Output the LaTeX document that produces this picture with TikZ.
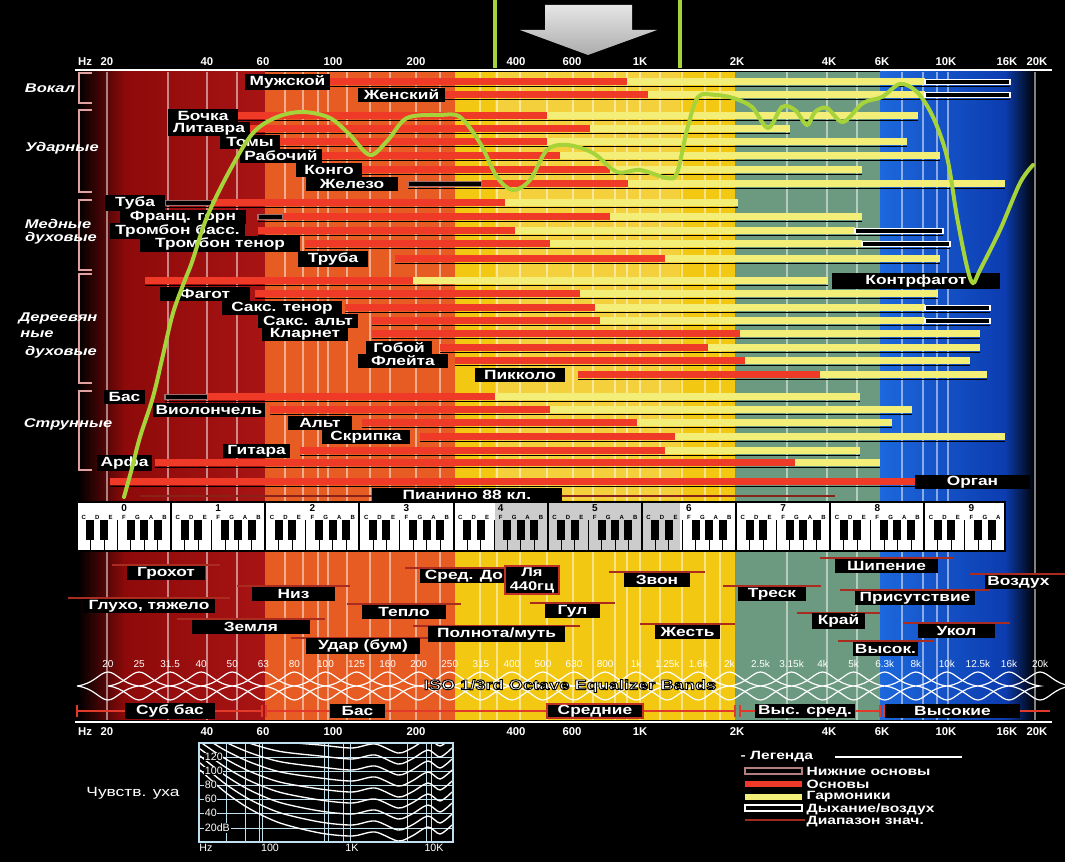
\documentclass[tikz,border=0pt]{standalone}
\usepackage{fontspec}
\setmainfont{Liberation Sans}
\newfontfamily\lf[FakeStretch=1.3]{Liberation Sans}
\usetikzlibrary{calc}
\definecolor{fundc}{HTML}{EE3A26}
\definecolor{harmc}{HTML}{F2EE78}
\definecolor{curvec}{HTML}{A6D23A}
\definecolor{darkred}{HTML}{8E0A0A}
\definecolor{redr}{HTML}{A81414}
\definecolor{orangec}{HTML}{E65C22}
\definecolor{yellowc}{HTML}{F2C812}
\definecolor{greenc}{HTML}{6C9A80}
\definecolor{bluec}{HTML}{1C68DC}
\definecolor{blued}{HTML}{0C3CB0}
\definecolor{rangec}{HTML}{E23A2A}
\definecolor{brk}{HTML}{E0A0A0}
\definecolor{gridc}{HTML}{BFE0EE}
\tikzset{
  lab/.style={fill=black, text=white, font={\lf\bfseries\fontsize{10}{11}\selectfont}, inner xsep=1.5pt, inner ysep=1pt, minimum height=10pt},
  cat/.style={text=white, font={\lf\bfseries\itshape\fontsize{9.5}{11}\selectfont}},
  axl/.style={text=white, font={\bfseries\fontsize{8.5}{9}\selectfont}},
  isol/.style={text=white, font={\fontsize{7.5}{7.5}\selectfont}},
  vline/.style={white, opacity=0.5, line width=1.5pt},
  shad/.style={black, line width=1pt},
  legt/.style={text=white, anchor=west, font={\lf\bfseries\fontsize{9}{9}\selectfont}, inner sep=0.3pt},
}
\newcommand{\rbar}[3]{\fill[fundc] (#1,#3-3.5) rectangle (#2,#3+3.5);}
\newcommand{\ybar}[3]{\fill[harmc] (#1,#3-3.5) rectangle (#2,#3+3.5);}
\newcommand{\abar}[3]{\draw[white, line width=0.8pt, fill=black] (#1,#3-2.8) rectangle (#2,#3+2.8);}
\newcommand{\lbar}[3]{\draw[brk!70!black, line width=0.8pt, fill=black] (#1,#3-2.8) rectangle (#2,#3+2.8);}
\newcommand{\shd}[3]{\draw[shad] (#1,#3+4.5) -- (#2,#3+4.5);}
\newcommand{\lbl}[5]{\node[lab, minimum width={(#3-#2)*0.75pt}] (#1) at ({(#2+#3)/2},#4) {#5};}
\newcommand{\dsc}[5]{\draw[rangec!75!black, line width=1.2pt] (#2-15,#4-8) -- (#3+15,#4-8); \lbl{#1}{#2}{#3}{#4}{#5}}
\newcommand{\brkt}[2]{\draw[brk, line width=1.2pt] (92,#1) -- (79,#1) -- (79,#2) -- (92,#2);}
\begin{document}
\begin{tikzpicture}[x=0.75pt,y=-0.75pt]
\useasboundingbox (0,0) rectangle (1065,862);
\fill[black] (0,0) rectangle (1065,862);
% background bands
\shade[left color=black, right color=darkred] (78,72) rectangle (125,720);
\shade[left color=darkred, right color=redr] (125,72) rectangle (265,720);
\fill[orangec] (265,72) rectangle (455,720);
\fill[yellowc] (455,72) rectangle (735,720);
\fill[greenc] (735,72) rectangle (880,720);
\shade[left color=bluec, right color=blued] (880,72) rectangle (1005,720);
\shade[left color=blued, right color=black] (1005,72) rectangle (1035,720);
\fill[white, opacity=0.18] (495,72) rectangle (680,500);
% vertical lines
\foreach \x in {107,168,207,237,285,303,318,328,347,370,390,416,440,480,497,520,547,573,593,615,627,640,660,682,705,720,787,827,857,902,923,937,948,1035}
  \draw[vline] (\x,72) -- (\x,720);
% brackets and categories
\brkt{73}{103}\brkt{110}{192}\brkt{200}{270}\brkt{274}{383}\brkt{391}{470}
\node[cat] (c1) at (50,88) {Вокал};
\node[cat] (c2) at (62,148) {Ударные};
\node[cat] (c3a) at (58,224) {Медные};
\node[cat] (c3b) at (61,238) {духовые};
\node[cat] (c4a) at (58,318) {Дереевян};
\node[cat] (c4b) at (37,334) {ные};
\node[cat] (c4c) at (61,352) {духовые};
\node[cat] (c5) at (68,424) {Струнные};
% rows
\shd{330}{1010}{82}\rbar{330}{627}{82}\ybar{627}{925}{82}\abar{925}{1010}{82}\lbl{r1}{245}{330}{82}{Мужской}
\shd{445}{1010}{95}\rbar{445}{648}{95}\ybar{648}{925}{95}\abar{925}{1010}{95}\lbl{r2}{358}{445}{95}{Женский}
\shd{238}{918}{116}\rbar{238}{547}{116}\ybar{547}{918}{116}\lbl{r3}{168}{238}{116}{Бочка}
\shd{250}{790}{129}\rbar{250}{590}{129}\ybar{590}{790}{129}\lbl{r4}{168}{250}{129}{Литавра}
\shd{280}{907}{142}\rbar{280}{547}{142}\ybar{547}{907}{142}\lbl{r5}{220}{280}{142}{Томы}
\shd{322}{940}{156}\rbar{322}{560}{156}\ybar{560}{940}{156}\lbl{r6}{240}{322}{156}{Рабочий}
\shd{362}{862}{170}\rbar{362}{610}{170}\ybar{610}{862}{170}\lbl{r7}{296}{362}{170}{Конго}
\shd{408}{1005}{184}\lbar{408}{482}{184}\rbar{482}{628}{184}\ybar{628}{1005}{184}\lbl{r8}{306}{398}{184}{Железо}
\shd{165}{738}{203}\lbar{165}{212}{203}\rbar{212}{505}{203}\ybar{505}{738}{203}\lbl{r9}{105}{165}{203}{Туба}
\shd{258}{862}{217}\lbar{258}{283}{217}\rbar{283}{610}{217}\ybar{610}{862}{217}\lbl{r10}{120}{246}{217}{Франц. горн}
\shd{258}{943}{231}\rbar{258}{515}{231}\ybar{515}{855}{231}\abar{855}{943}{231}\lbl{r11}{110}{245}{231}{Тромбон басс.}
\shd{305}{950}{244}\rbar{305}{550}{244}\ybar{550}{862}{244}\abar{862}{950}{244}\lbl{r12}{140}{300}{244}{Тромбон тенор}
\shd{395}{940}{259}\rbar{395}{665}{259}\ybar{665}{940}{259}\lbl{r13}{298}{368}{259}{Труба}
\shd{145}{828}{281}\rbar{145}{413}{281}\ybar{413}{828}{281}\lbl{r14}{832}{1000}{281}{Контрфагот}
\shd{255}{938}{294}\rbar{255}{580}{294}\ybar{580}{938}{294}\lbl{r15}{160}{250}{294}{Фагот}
\shd{345}{990}{308}\rbar{345}{595}{308}\ybar{595}{925}{308}\abar{925}{990}{308}\lbl{r16}{222}{342}{308}{Сакс. тенор}
\shd{372}{990}{321}\rbar{372}{600}{321}\ybar{600}{925}{321}\abar{925}{990}{321}\lbl{r17}{258}{358}{321}{Сакс. альт}
\shd{372}{980}{334}\rbar{372}{740}{334}\ybar{740}{980}{334}\lbl{r18}{262}{348}{334}{Кларнет}
\shd{440}{980}{348}\rbar{440}{708}{348}\ybar{708}{980}{348}\lbl{r19}{366}{432}{348}{Гобой}
\shd{455}{970}{361}\rbar{455}{745}{361}\ybar{745}{970}{361}\lbl{r20}{358}{448}{361}{Флейта}
\shd{578}{987}{375}\rbar{578}{820}{375}\ybar{820}{987}{375}\lbl{r21}{475}{565}{375}{Пикколо}
\shd{165}{860}{397}\lbar{165}{208}{397}\rbar{208}{495}{397}\ybar{495}{860}{397}\lbl{r22}{104}{145}{397}{Бас}
\shd{270}{912}{410}\rbar{270}{550}{410}\ybar{550}{912}{410}\lbl{r23}{153}{265}{410}{Виолончель}
\shd{362}{892}{423}\rbar{362}{637}{423}\ybar{637}{892}{423}\lbl{r24}{288}{352}{423}{Альт}
\shd{420}{1005}{437}\rbar{420}{675}{437}\ybar{675}{1005}{437}\lbl{r25}{322}{410}{437}{Скрипка}
\shd{300}{860}{451}\rbar{300}{665}{451}\ybar{665}{860}{451}\lbl{r26}{223}{290}{451}{Гитара}
\shd{155}{880}{463}\rbar{155}{795}{463}\ybar{795}{880}{463}\lbl{r27}{97}{152}{463}{Арфа}
\shd{110}{915}{482}\rbar{110}{915}{482}\lbl{r28}{915}{1030}{482}{Орган}
\draw[rangec!60!black, line width=1.5pt] (140,496) -- (372,496);
\draw[rangec!60!black, line width=1.5pt] (562,496) -- (835,496);
\lbl{r29}{372}{562}{495}{Пианино 88 кл.}
% green curve
\draw[curvec, line width=3pt, line cap=round] plot[smooth, tension=0.55] coordinates {(124,497) (132,468) (140,437) (153,397) (163,355) (173,313) (185,280) (192,262) (207,217) (230,170) (253,133) (277,117) (303,112) (330,118) (350,135) (370,155) (388,140) (407,118) (440,115) (460,117) (480,143) (497,177) (513,190) (530,180) (547,150) (567,145) (593,153) (617,172) (640,170) (667,178) (677,173) (687,130) (698,97) (715,95) (733,98) (752,107) (768,128) (782,107) (795,110) (807,125) (815,112) (827,108) (843,122) (863,103) (882,97) (900,84) (917,92) (933,117) (947,157) (957,217) (967,267) (973,283) (980,270) (1000,230) (1020,183) (1033,165)};
% keyboard
\fill[white] (77,502) rectangle (1005,551);
\foreach \n in {0,...,68} {
  \draw[black, line width=0.6pt] ({77+13.45*\n},520) -- ({77+13.45*\n},551);
  \pgfmathtruncatemacro\m{mod(\n,7)}
  \node[font={\bfseries\fontsize{4.5}{5}\selectfont}, inner sep=0pt] at ({77+13.45*(\n+0.5)},517) {\ifcase\m C\or D\or E\or F\or G\or A\or B\fi};
}
\foreach \n in {0,...,67} {
  \pgfmathtruncatemacro\m{mod(\n,7)}
  \ifnum\m=2\relax\else\ifnum\m=6\relax\else
    \fill[black] ({77+13.45*(\n+1)-4},520) rectangle ({77+13.45*(\n+1)+4},540);
  \fi\fi
}
\foreach \o in {0,...,9} {
  \draw[black, line width=1.5pt] ({77+94.15*\o},502) -- ({77+94.15*\o},551);
  \node[font={\bfseries\fontsize{7.5}{8}\selectfont}, inner sep=0pt] at ({77+94.15*(\o+0.5)},508) {\o};
}
\fill[black, opacity=0.2] (495,502) rectangle (680,551);
\draw[black, line width=1.5pt] (77,502) rectangle (1005,551);
% descriptors
\dsc{d1}{127}{205}{573}{Грохот}
\dsc{d2}{83}{215}{606}{Глухо, тяжело}
\dsc{d3}{252}{335}{594}{Низ}
\dsc{d4}{192}{310}{627}{Земля}
\dsc{d5}{362}{446}{612}{Тепло}
\dsc{d6}{306}{420}{646}{Удар (бум)}
\dsc{d7}{420}{508}{576}{Сред. До}
\dsc{d8}{428}{565}{634}{Полнота/муть}
\dsc{d9}{545}{600}{611}{Гул}
\dsc{d10}{624}{690}{580}{Звон}
\dsc{d11}{655}{720}{632}{Жесть}
\dsc{d12}{738}{806}{594}{Треск}
\dsc{d13}{835}{938}{566}{Шипение}
\dsc{d14}{812}{865}{621}{Край}
\dsc{d15}{855}{975}{598}{Присутствие}
\dsc{d16}{985}{1052}{582}{Воздух}
\dsc{d17}{918}{995}{631}{Укол}
\dsc{d18}{853}{918}{649}{Высок.}
\node[lab, draw=rangec!85!black, line width=1.5pt, align=center, minimum width=40pt, font={\lf\bfseries\fontsize{9.5}{10.5}\selectfont}] (la) at (532,580) {Ля\\440гц};
% ISO bands
\foreach \t [count=\i from 0] in {20,25,31.5,40,50,63,80,100,125,160,200,250,315,400,500,630,800,1k,1.25k,1.6k,2k,2.5k,3.15k,4k,5k,6.3k,8k,10k,12.5k,16k,20k} {
  \pgfmathsetmacro\xc{108+31.07*\i}
  \node[isol, inner sep=0pt] at (\xc,664) {\t};
  \draw[white, line width=0.9pt] (\xc-31,686) .. controls (\xc-14,684) and (\xc-8,672) .. (\xc,672) .. controls (\xc+8,672) and (\xc+14,684) .. (\xc+31,686) .. controls (\xc+14,688) and (\xc+8,700) .. (\xc,700) .. controls (\xc-8,700) and (\xc-14,688) .. (\xc-31,686);
}
\node[text=white, font={\lf\bfseries\fontsize{10.5}{11}\selectfont}] (iso) at (570,686) {\special{pdf:literal direct 2 Tr 0.7 w 0 G}ISO 1/3rd Octave Equalizer Bands\special{pdf:literal direct 0 Tr}};
% band ranges
\draw[rangec, line width=1.5pt] (77,711) -- (262,711) (266,711) -- (455,711) (455,711) -- (735,711) (740,711) -- (880,711) (884,711) -- (1050,711);
\foreach \x in {77,262,266,735,740,880,884} \draw[rangec, line width=1.5pt] (\x,705) -- (\x,717);
\lbl{b1}{125}{215}{711}{Суб бас}
\lbl{b2}{330}{385}{711}{Бас}
\node[lab, draw=rangec!85!black, line width=1.5pt, minimum width=72pt] (b3) at (595,711) {Средние};
\lbl{b4}{755}{855}{711}{Выс. сред.}
\lbl{b5}{885}{1020}{711}{Высокие}
% axes
\draw[white, line width=1.5pt] (75,70) -- (1052,70);
\draw[white, line width=1.5pt] (75,722) -- (1052,722);
\foreach \y/\s in {62/t,732/b} {
  \node[axl] (hz\s) at (85,\y) {Hz};
  \foreach \lab/\x [count=\j] in {20/107,40/207,60/263,100/333,200/416,400/516,600/572,1K/640,2K/737,4K/829,6K/882,10K/946,16K/1007,20K/1037}
    \node[axl] (ax\s\j) at (\x,\y) {\lab};
}
% top arrow and marker lines
\shade[top color=gray!20, bottom color=gray!65] (545,5) -- (632,5) -- (632,30) -- (657,30) -- (588,55) -- (520,30) -- (545,30) -- cycle;
\draw[curvec, line width=3pt] (495,0) -- (495,68);
\draw[curvec, line width=3pt] (680,0) -- (680,68);
% equal loudness chart
\node[text=white, font={\lf\fontsize{10}{11}\selectfont}] (ear) at (133,793) {Чувств. уха};
\foreach \x in {226,245,259,262,324,328,343,350,407,426,431} \draw[gridc, line width=0.5pt] (\x,743) -- (\x,842);
\foreach \y in {757,771,785,799,813,828} \draw[gridc, line width=0.5pt] (199,\y) -- (453,\y);
\begin{scope}
\clip (199,743) rectangle (453,842);
\foreach \k in {0,...,10} {
  \pgfmathsetmacro\b{836-11*\k}
  \pgfmathsetmacro\s{1-0.06*\k}
  \draw[white, line width=1pt] plot[smooth] coordinates {(200,\b-66*\s) (225,\b-44*\s) (250,\b-27*\s) (280,\b-13*\s) (320,\b-3) (352,\b) (375,\b-4) (398,\b+5) (412,\b) (428,\b-9) (440,\b-2) (452,\b-11)};
}
\end{scope}
\draw[gridc, line width=1pt] (199,743) rectangle (453,842);
\foreach \v/\y [count=\j] in {120/757,100/771,80/785,60/799,40/813,20dB/828}
  \node[fill=black, text=white, font={\fontsize{8}{8}\selectfont}, inner sep=0.5pt, anchor=west] (db\j) at (204,\y) {\v};
\foreach \v/\x [count=\j] in {Hz/206,100/270,1K/352,10K/434}
  \node[text=white, font={\fontsize{8}{8}\selectfont}, inner sep=0.5pt] (hzl\j) at (\x,848) {\v};
% legend
\node[legt] (lg0) at (740,757) {- Легенда};
\draw[white, line width=1.2pt] (835,757) -- (962,757);
\draw[brk!80!black, line width=0.8pt, fill=black] (745,768) rectangle (802,774);
\node[legt] (lg1) at (806,771) {Нижние основы};
\fill[fundc] (745,781) rectangle (802,787);
\node[legt] (lg2) at (806,784) {Основы};
\fill[harmc] (745,794) rectangle (802,800);
\node[legt] (lg3) at (806,797) {Гармоники};
\draw[white, line width=0.8pt, fill=black] (745,805) rectangle (802,811);
\node[legt] (lg4) at (806,809) {Дыхание/воздух};
\draw[rangec!70!black, line width=1pt] (745,820) -- (805,820);
\node[legt] (lg5) at (806,822) {Диапазон знач.};
\end{tikzpicture}
\end{document}
